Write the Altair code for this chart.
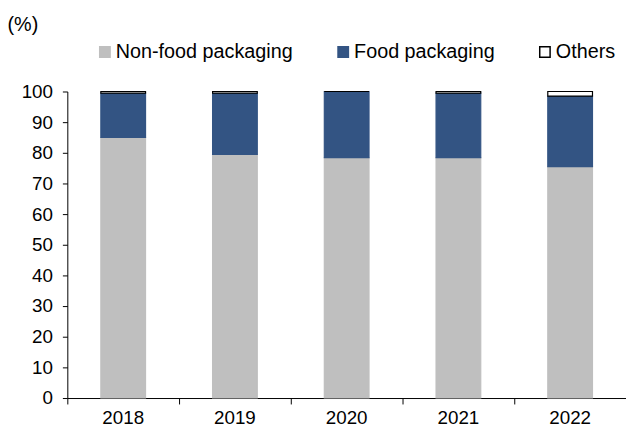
import altair as alt
import pandas as pd

years = ["2018", "2019", "2020", "2021", "2022"]
non_food = [85.0, 79.5, 78.4, 78.4, 75.5]
food = [14.5, 20.0, 21.6, 21.1, 23.0]
others = [0.5, 0.5, 0.0, 0.5, 1.5]
series = ["Non-food packaging", "Food packaging", "Others"]
colors = ["#BFBFBF", "#335483", "#FFFFFF"]
strokes = ["#BFBFBF", "#335483", "#000000"]

rows = []
for i, y in enumerate(years):
    for k, (name, vals) in enumerate(zip(series, [non_food, food, others])):
        rows.append({"year": y, "type": name, "value": vals[i], "ord": k})
df = pd.DataFrame(rows)

FONT = "Liberation Sans"

chart = alt.Chart(df).mark_bar(width={"band": 0.4}, strokeWidth=1.2).encode(
    x=alt.X("year:N", title=None,
            scale=alt.Scale(paddingInner=0, paddingOuter=0),
            axis=alt.Axis(labelAngle=0, bandPosition=0,
                          tickSize=6, tickColor="black", domainColor="black",
                          labelFontSize=19, labelFont=FONT, labelColor="black",
                          labelPadding=5)),
    y=alt.Y("value:Q", stack="zero",
            scale=alt.Scale(domain=[0, 100], nice=False),
            axis=alt.Axis(values=list(range(0, 101, 10)), grid=False,
                          tickSize=5, tickColor="black", domainColor="black",
                          labelFontSize=19, labelFont=FONT, labelColor="black",
                          labelPadding=10,
                          title="(%)", titleAngle=0, titleX=-61, titleY=-68,
                          titleAlign="left", titleBaseline="middle",
                          titleFontSize=20, titleFont=FONT, titleFontWeight="normal",
                          titleColor="black")),
    color=alt.Color("type:N", scale=alt.Scale(domain=series, range=colors),
                    sort=series,
                    legend=alt.Legend(title=None, orient="none", legendX=28, legendY=-50,
                                      direction="horizontal", symbolType="square",
                                      symbolSize=110, symbolStrokeWidth=1.5,
                                      labelFontSize=20, labelFont=FONT, labelColor="black",
                                      labelLimit=400,
                                      labelOffset=1, columnPadding=40)),
    stroke=alt.Stroke("type:N", scale=alt.Scale(domain=series, range=strokes), sort=series),
    order=alt.Order("ord:Q"),
).properties(
    width=565, height=310,
    padding={"left": 60, "top": 82, "right": 0, "bottom": 40},
    autosize=alt.AutoSizeParams(type="none"),
).configure_view(stroke=None)

chart.save("out.html", embed_options={"renderer": "svg", "actions": False})
